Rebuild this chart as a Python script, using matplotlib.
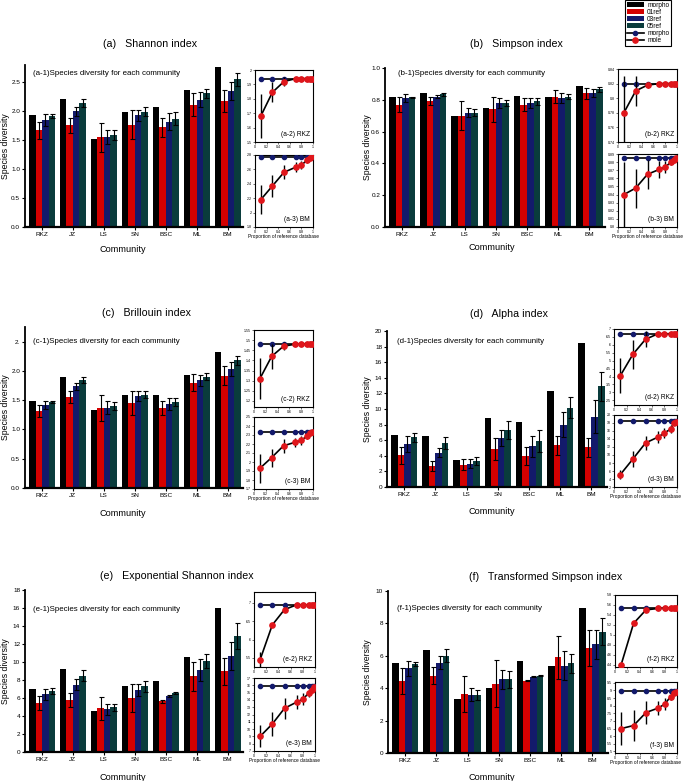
import matplotlib
matplotlib.use("Agg")
import matplotlib.pyplot as plt
from matplotlib.ticker import MultipleLocator, FormatStrFormatter, FuncFormatter
import numpy as np

plt.rcParams['font.family'] = ['Liberation Sans', 'DejaVu Sans']

# ---------------- data ----------------
communities = ["RKZ", "JZ", "LS", "SN", "BSC", "ML", "BM"]
series_names = ["morpho", "01ref", "03ref", "05ref"]
proportions = [0.1, 0.3, 0.5, 0.7, 0.8, 0.9, 0.95, 0.99]

# Shannon
shannon_morpho = [1.94, 2.21, 1.52, 1.99, 2.07, 2.36, 2.77]
shannon_01ref = [1.67, 1.76, 1.55, 1.77, 1.72, 2.11, 2.18]
shannon_01ref_err = [0.15, 0.13, 0.25, 0.25, 0.16, 0.20, 0.19]
shannon_03ref = [1.85, 2.00, 1.56, 1.93, 1.82, 2.20, 2.35]
shannon_03ref_err = [0.10, 0.08, 0.12, 0.09, 0.15, 0.13, 0.16]
shannon_05ref = [1.92, 2.14, 1.59, 1.99, 1.87, 2.31, 2.55]
shannon_05ref_err = [0.04, 0.07, 0.08, 0.08, 0.11, 0.08, 0.11]
shannon_rkz_mole = [1.68, 1.845, 1.92, 1.94, 1.94, 1.94, 1.94, 1.94]
shannon_rkz_mole_err = [0.15, 0.07, 0.03, 0, 0, 0, 0, 0]
shannon_bm_mole = [2.18, 2.37, 2.56, 2.63, 2.66, 2.73, 2.76, 2.78]
shannon_bm_mole_err = [0.2, 0.15, 0.1, 0.07, 0.06, 0.04, 0.02, 0.01]

# Simpson
simpson_morpho = [0.82, 0.84, 0.70, 0.75, 0.825, 0.815, 0.885]
simpson_01ref = [0.77, 0.79, 0.70, 0.74, 0.77, 0.82, 0.84]
simpson_01ref_err = [0.045, 0.025, 0.09, 0.08, 0.04, 0.04, 0.035]
simpson_03ref = [0.81, 0.82, 0.72, 0.78, 0.78, 0.81, 0.845]
simpson_03ref_err = [0.025, 0.01, 0.03, 0.03, 0.03, 0.03, 0.025]
simpson_05ref = [0.815, 0.835, 0.72, 0.78, 0.79, 0.82, 0.865]
simpson_05ref_err = [0.005, 0.01, 0.02, 0.02, 0.02, 0.015, 0.015]
simpson_rkz_mole = [0.78, 0.81, 0.818, 0.82, 0.82, 0.82, 0.82, 0.82]
simpson_rkz_mole_err = [0.05, 0.02, 0.004, 0, 0, 0, 0, 0]
simpson_bm_mole = [0.84, 0.848, 0.865, 0.871, 0.874, 0.88, 0.883, 0.885]
simpson_bm_mole_err = [0.04, 0.024, 0.018, 0.01, 0.007, 0.004, 0.002, 0.001]

# Brillouin
brillouin_morpho = [1.48, 1.89, 1.34, 1.58, 1.59, 1.93, 2.33]
brillouin_01ref = [1.31, 1.56, 1.37, 1.45, 1.37, 1.80, 1.92]
brillouin_01ref_err = [0.10, 0.10, 0.22, 0.20, 0.12, 0.15, 0.16]
brillouin_03ref = [1.42, 1.74, 1.37, 1.57, 1.43, 1.84, 2.04]
brillouin_03ref_err = [0.07, 0.06, 0.11, 0.08, 0.10, 0.09, 0.12]
brillouin_05ref = [1.47, 1.84, 1.40, 1.59, 1.47, 1.90, 2.18]
brillouin_05ref_err = [0.02, 0.05, 0.07, 0.06, 0.07, 0.06, 0.08]
brillouin_rkz_mole = [1.31, 1.42, 1.47, 1.48, 1.48, 1.48, 1.48, 1.48]
brillouin_rkz_mole_err = [0.10, 0.06, 0.02, 0, 0, 0, 0, 0]
brillouin_bm_mole = [1.93, 2.05, 2.18, 2.22, 2.24, 2.29, 2.32, 2.33]
brillouin_bm_mole_err = [0.16, 0.1, 0.08, 0.05, 0.05, 0.03, 0.02, 0.01]

# Alpha
alpha_morpho = [6.7, 6.55, 3.4, 8.9, 8.3, 12.35, 18.5]
alpha_01ref = [4.05, 2.7, 2.85, 4.85, 3.95, 5.35, 5.1]
alpha_01ref_err = [1.1, 0.6, 0.7, 1.45, 1.15, 1.2, 1.2]
alpha_03ref = [5.5, 4.4, 3.0, 6.3, 5.2, 8.0, 9.0]
alpha_03ref_err = [1.0, 0.6, 0.55, 1.05, 1.4, 1.6, 2.1]
alpha_05ref = [6.35, 5.65, 3.35, 7.25, 5.9, 10.15, 12.9]
alpha_05ref_err = [0.6, 0.75, 0.5, 1.15, 1.4, 1.35, 1.85]
alpha_rkz_mole = [4.05, 5.4, 6.35, 6.7, 6.7, 6.7, 6.7, 6.7]
alpha_rkz_mole_err = [1.1, 0.9, 0.5, 0, 0, 0, 0, 0]
alpha_bm_mole = [5.1, 9.0, 13.0, 14.5, 15.5, 16.5, 18.0, 18.3]
alpha_bm_mole_err = [1.2, 2.0, 1.8, 1.5, 1.3, 1.0, 0.5, 0.2]

# Exponential Shannon
expshannon_morpho = [6.95, 9.2, 4.57, 7.3, 7.9, 10.6, 15.95]
expshannon_01ref = [5.45, 5.8, 4.85, 6.0, 5.65, 8.4, 8.95]
expshannon_01ref_err = [0.8, 0.8, 1.3, 1.6, 0.15, 1.6, 1.5]
expshannon_03ref = [6.4, 7.5, 4.75, 6.9, 6.25, 9.1, 10.65]
expshannon_03ref_err = [0.6, 0.6, 0.6, 0.7, 0.1, 1.2, 1.55]
expshannon_05ref = [6.8, 8.5, 4.95, 7.3, 6.55, 10.1, 12.9]
expshannon_05ref_err = [0.3, 0.6, 0.4, 0.6, 0.1, 0.8, 1.4]
expshannon_rkz_mole = [5.45, 6.4, 6.82, 6.95, 6.95, 6.95, 6.95, 6.95]
expshannon_rkz_mole_err = [0.2, 0.05, 0.03, 0, 0, 0, 0, 0]
expshannon_bm_mole = [9.0, 10.7, 12.85, 13.7, 14.1, 14.95, 15.4, 15.7]
expshannon_bm_mole_err = [1.5, 1.6, 1.4, 1.0, 0.8, 0.6, 0.3, 0.1]

# Transformed Simpson
tsimpson_morpho = [5.53, 6.33, 3.34, 4.0, 5.69, 5.4, 8.95]
tsimpson_01ref = [4.43, 4.78, 3.63, 4.27, 4.47, 5.9, 6.47]
tsimpson_01ref_err = [0.8, 0.55, 1.1, 1.45, 0.05, 1.35, 1.1]
tsimpson_03ref = [5.22, 5.57, 3.59, 4.54, 4.72, 5.4, 6.72]
tsimpson_03ref_err = [0.45, 0.4, 0.4, 0.6, 0.03, 0.9, 0.9]
tsimpson_05ref = [5.48, 6.0, 3.59, 4.54, 4.78, 5.53, 7.5]
tsimpson_05ref_err = [0.12, 0.4, 0.3, 0.5, 0.03, 0.6, 0.85]
tsimpson_rkz_mole = [4.4, 5.23, 5.5, 5.53, 5.53, 5.53, 5.53, 5.53]
tsimpson_rkz_mole_err = [0.03, 0.02, 0.01, 0, 0, 0, 0, 0]
tsimpson_bm_mole = [6.5, 6.7, 7.55, 7.85, 8.1, 8.6, 8.8, 8.9]
tsimpson_bm_mole_err = [1.1, 1.0, 0.75, 0.45, 0.4, 0.2, 0.1, 0.05]

# ---------------- style / layout ----------------
W, H = 689, 781
colors = ["#000000", "#d40000", "#131a6b", "#0a3c3c"]
NAVY = "#131a6b"
RED = "#e0161b"

fig = plt.figure(figsize=(W / 100, H / 100), dpi=100)


def rect(x0, y0, x1, y1):
    return [x0 / W, 1 - y1 / H, (x1 - x0) / W, (y1 - y0) / H]


panels = [
    dict(letter="a", title="(a)   Shannon index", main=(25, 65, 243, 227), ylim=(0, 2.8),
         yticks=[0, 0.5, 1.0, 1.5, 2.0, 2.5], ylabels=None, txt=(0.037, 0.95),
         title_xy=(150, 44), ylab_x=6, comm_xy=(123, 250),
         ins2=(255, 70, 313, 142), ins3=(255, 155, 313, 227),
         y2=(1.5, 2.0, 0.1), y3=(1.8, 2.8, 0.2),
         data=(shannon_morpho, shannon_01ref, shannon_01ref_err, shannon_03ref, shannon_03ref_err,
               shannon_05ref, shannon_05ref_err),
         rkz=(shannon_rkz_mole, shannon_rkz_mole_err), bm=(shannon_bm_mole, shannon_bm_mole_err)),
    dict(letter="b", title="(b)   Simpson index", main=(385, 68, 605, 227), ylim=(0, 1.0),
         yticks=[0, 0.2, 0.4, 0.6, 0.8, 1.0], ylabels=None, txt=(0.06, 0.965),
         title_xy=(516, 44), ylab_x=367, comm_xy=(492, 247),
         ins2=(618, 69, 677, 142), ins3=(618, 154, 677, 227),
         y2=(0.74, 0.84, 0.02), y3=(0.80, 0.89, 0.01),
         data=(simpson_morpho, simpson_01ref, simpson_01ref_err, simpson_03ref, simpson_03ref_err,
               simpson_05ref, simpson_05ref_err),
         rkz=(simpson_rkz_mole, simpson_rkz_mole_err), bm=(simpson_bm_mole, simpson_bm_mole_err)),
    dict(letter="c", title="(c)   Brillouin index", main=(25, 327, 243, 488), ylim=(0, 2.75),
         yticks=[0, 0.5, 1.0, 1.5, 2.0, 2.5], ylabels=["0.0", "0.5", "1.0", "1.5", "2.0", "2."],
         txt=(0.037, 0.91),
         title_xy=(146, 313), ylab_x=6, comm_xy=(123, 514),
         ins2=(254, 330, 313, 407), ins3=(254, 417, 313, 489),
         y2=(1.17, 1.55, 0.05), y3=(1.7, 2.5, 0.1),
         data=(brillouin_morpho, brillouin_01ref, brillouin_01ref_err, brillouin_03ref, brillouin_03ref_err,
               brillouin_05ref, brillouin_05ref_err),
         rkz=(brillouin_rkz_mole, brillouin_rkz_mole_err), bm=(brillouin_bm_mole, brillouin_bm_mole_err)),
    dict(letter="d", title="(d)   Alpha index", main=(387, 331, 607, 487), ylim=(0, 20),
         yticks=list(range(0, 21, 2)), ylabels=None, txt=(0.045, 0.93),
         title_xy=(509, 314), ylab_x=368, comm_xy=(492, 511),
         ins2=(614, 329, 677, 405), ins3=(614, 415, 677, 487),
         y2=(2.2, 7.0, 0.5), y3=(2, 20, 2),
         data=(alpha_morpho, alpha_01ref, alpha_01ref_err, alpha_03ref, alpha_03ref_err,
               alpha_05ref, alpha_05ref_err),
         rkz=(alpha_rkz_mole, alpha_rkz_mole_err), bm=(alpha_bm_mole, alpha_bm_mole_err)),
    dict(letter="e", title="(e)   Exponential Shannon index", main=(25, 590, 243, 752), ylim=(0, 18),
         yticks=list(range(0, 19, 2)), ylabels=None, txt=(0.037, 0.88),
         title_xy=(177, 576), ylab_x=6, comm_xy=(123, 777),
         ins2=(254, 592, 315, 667), ins3=(254, 678, 315, 751),
         y2=(5.25, 7.3, 0.5), y3=(7, 17, 1),
         data=(expshannon_morpho, expshannon_01ref, expshannon_01ref_err, expshannon_03ref,
               expshannon_03ref_err, expshannon_05ref, expshannon_05ref_err),
         rkz=(expshannon_rkz_mole, expshannon_rkz_mole_err), bm=(expshannon_bm_mole, expshannon_bm_mole_err)),
    dict(letter="f", title="(f)   Transformed Simpson index", main=(388, 591, 608, 753), ylim=(0, 10),
         yticks=list(range(0, 11, 2)), ylabels=None, txt=(0.04, 0.895),
         title_xy=(546, 577), ylab_x=368, comm_xy=(492, 777),
         ins2=(615, 595, 677, 667), ins3=(615, 682, 677, 753),
         y2=(4.35, 5.8, 0.2), y3=(4.9, 9.55, 0.5),
         data=(tsimpson_morpho, tsimpson_01ref, tsimpson_01ref_err, tsimpson_03ref, tsimpson_03ref_err,
               tsimpson_05ref, tsimpson_05ref_err),
         rkz=(tsimpson_rkz_mole, tsimpson_rkz_mole_err), bm=(tsimpson_bm_mole, tsimpson_bm_mole_err)),
]

offsets = [-0.315, -0.105, 0.105, 0.315]
bw = 0.21
x = np.arange(len(communities))
gfmt = FuncFormatter(lambda v, p: ("%g" % round(v, 4)))

bar_handles = None
line_handles = None


def draw_inset(ax, morpho_val, mole, mole_err, ylo, yhi, step, label, show_xlabel):
    global line_handles
    ax.set_xlim(0, 1)
    ax.set_ylim(ylo, yhi)
    ax.yaxis.set_major_locator(MultipleLocator(step))
    ax.yaxis.set_major_formatter(gfmt)
    ax.xaxis.set_major_locator(MultipleLocator(0.2))
    ax.xaxis.set_major_formatter(gfmt)
    ax.tick_params(labelsize=2.6, length=1.2, width=0.4, pad=0.8, direction='out')
    for s in ax.spines.values():
        s.set_linewidth(0.8)
    l1, = ax.plot(proportions, [morpho_val] * len(proportions), '-o', color='black', lw=1.2,
                  markerfacecolor=NAVY, markeredgecolor=NAVY, markersize=3.0, zorder=3)
    ax.errorbar(proportions, mole, yerr=mole_err, fmt='none', ecolor='black', elinewidth=1.0,
                capsize=0, zorder=4)
    l2, = ax.plot(proportions, mole, '-o', color='black', lw=1.2,
                  markerfacecolor=RED, markeredgecolor=RED, markersize=3.8, zorder=5)
    ax.text(0.95, 0.1, label, transform=ax.transAxes, ha='right', va='center', fontsize=4.8)
    if show_xlabel:
        ax.set_xlabel("Proportion of reference database", fontsize=3.4, labelpad=0.5)
    if line_handles is None:
        line_handles = [l1, l2]


for p in panels:
    ax = fig.add_axes(rect(*p["main"]))
    m, r1, e1, r3, e3, r5, e5 = p["data"]
    vals = [m, r1, r3, r5]
    errs = [None, e1, e3, e5]
    handles = []
    for i in range(4):
        b = ax.bar(x + offsets[i], vals[i], width=bw, color=colors[i], linewidth=0, zorder=2)
        handles.append(b)
        if errs[i] is not None:
            ax.errorbar(x + offsets[i], vals[i], yerr=errs[i], fmt='none', ecolor='black',
                        elinewidth=0.8, capsize=1.8, capthick=0.8, zorder=3)
    if bar_handles is None:
        bar_handles = handles
    ax.set_xlim(-0.55, 6.5)
    ax.set_ylim(*p["ylim"])
    ax.set_yticks(p["yticks"])
    if p["ylabels"] is not None:
        ax.set_yticklabels(p["ylabels"])
    elif p["ylim"][1] <= 3:
        ax.yaxis.set_major_formatter(FormatStrFormatter('%.1f'))
    ax.set_xticks(x)
    ax.set_xticklabels(communities)
    ax.tick_params(axis='both', labelsize=4.6, length=2, width=0.8, pad=1.5, direction='out')
    ax.spines['top'].set_visible(False)
    ax.spines['right'].set_visible(False)
    ax.spines['left'].set_linewidth(1.3)
    ax.spines['bottom'].set_linewidth(1.6)
    ax.text(p["txt"][0], p["txt"][1], "(%s-1)Species diversity for each community" % p["letter"],
            transform=ax.transAxes, ha='left', va='center', fontsize=5.7)
    fig.text(p["title_xy"][0] / W, 1 - p["title_xy"][1] / H, p["title"], ha='center', va='center',
             fontsize=7.7)
    fig.text(p["comm_xy"][0] / W, 1 - p["comm_xy"][1] / H, "Community", ha='center', va='center',
             fontsize=6.6)
    ycen = (p["main"][1] + p["main"][3]) / 2
    fig.text(p["ylab_x"] / W, 1 - ycen / H, "Species diversity", rotation=90, ha='center',
             va='center', fontsize=6.2)

    ax2 = fig.add_axes(rect(*p["ins2"]))
    draw_inset(ax2, m[communities.index("RKZ")], p["rkz"][0], p["rkz"][1], *p["y2"],
               "(%s-2) RKZ" % p["letter"], False)
    ax3 = fig.add_axes(rect(*p["ins3"]))
    draw_inset(ax3, m[communities.index("BM")], p["bm"][0], p["bm"][1], *p["y3"],
               "(%s-3) BM" % p["letter"], True)

leg = fig.legend(bar_handles + line_handles, series_names + ["morpho", "mole"],
                 loc='upper left', bbox_to_anchor=(625 / W, 1.0), fontsize=4.7,
                 frameon=True, fancybox=False, edgecolor='black', framealpha=1,
                 labelspacing=0.0, borderpad=0.3, handlelength=2.6, handleheight=0.8,
                 handletextpad=0.5, borderaxespad=0)
leg.get_frame().set_linewidth(0.8)

fig.savefig("out.png", dpi=100)
